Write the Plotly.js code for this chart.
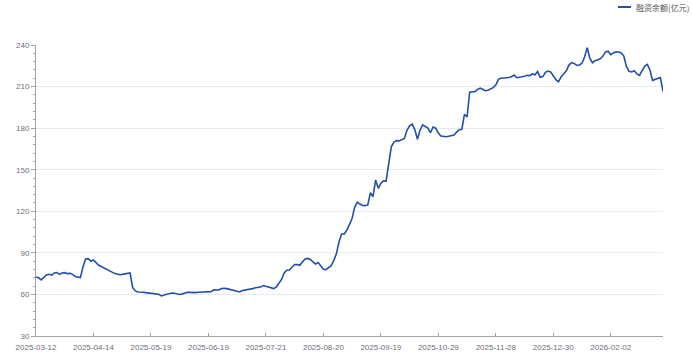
<!DOCTYPE html>
<html>
<head>
<meta charset="utf-8">
<script src="https://cdn.plot.ly/plotly-3.0.1.min.js"></script>
<style>html,body{margin:0;padding:0;background:#fff;}#chart{width:692px;height:358px;}</style>
</head>
<body>
<div id="chart"></div>
<script>
// Series name
const seriesName = '融资余额(亿元)';

// Daily financing balance (亿元), one value per trading day
const balance = [
  72.5, 72, 70.5, 72.5, 74, 74.5, 74, 75.5, 75.8, 74.5,
  75.5, 75.7, 75, 75.2, 74.5, 73, 72.4, 72.2, 80, 85.5,
  85.8, 84, 84.9, 83, 81, 80.2, 79.2, 78.2, 77.3, 76,
  75.2, 74.7, 74.3, 74.5, 74.8, 75.3, 75.5, 65, 62.5, 61.7,
  61.8, 61.6, 61.3, 61, 60.7, 60.8, 60.6, 60.1, 58.9, 59.8,
  60.1, 60.5, 61, 60.9, 60.5, 60, 60.4, 61.3, 61.6,
  61.5, 61.3, 61.3, 61.6, 61.6, 61.7, 61.8, 61.9, 62, 63.3,
  63.4, 63.2, 64.2, 64.5, 64.2, 63.8, 63.1, 62.5, 62.1, 61.8,
  62.8, 63.1, 63.2, 63.4, 64.2, 64.8, 65, 65.3, 66.4, 65.8,
  65, 64.4, 64.2, 65.5, 68, 70.8, 75.5, 77.5, 77.6, 80,
  81.6, 81.5, 81, 83.5, 85.6, 86, 85.2, 83.5, 82, 83,
  80.5, 78.2, 77.9, 79.4, 80.8, 84.5, 89.5, 98, 103.6, 103.6,
  106.5, 110.5, 115, 123, 126.5, 125.2, 124.2, 124.1, 124.6, 133.4,
  130.5, 142.6, 136.6, 140.2, 141.9, 141.7, 155, 166.5, 170, 171,
  170.8, 171.6, 172.5, 178.5, 181.6, 182.8, 179, 172, 178.5, 182.3,
  181.1, 180, 176.7, 180.8, 180, 176.5, 174.3, 173.8, 173.8, 174.2,
  174.5, 175, 177.2, 178.8, 179.2, 190, 188, 206, 206.3, 206.3,
  208, 208.8, 208, 207, 207.3, 208, 209.2, 211.1, 215.2, 216,
  216, 216, 216.5, 217.1, 218.3, 216.4, 217, 217.1, 217.5, 218.1,
  217.9, 219.1, 218.5, 220.8, 216.7, 217.2, 220.3, 221.2, 220.5, 217.8,
  215, 213.5, 217, 219.3, 221.3, 225.5, 227.3, 226.7, 225.3, 225.6,
  226.8, 231.5, 238, 230.5, 227.2, 228.7, 229.7, 230.1, 232, 235,
  235.5, 233, 234.3, 235, 234.9, 234.2, 232, 224.5, 221, 220.5,
  221.4, 219.1, 218, 222, 224.8, 226, 222, 214.5, 215.3, 215.7,
  216.5, 206.5
];

// Date labels shown on the x axis (every 22nd trading day)
const tickLabels = ['2025-03-12','2025-04-14','2025-05-19','2025-06-19','2025-07-21','2025-08-20','2025-09-19','2025-10-29','2025-11-28','2025-12-30','2026-02-02'];
const labelInterval = 22;

const xIdx = balance.map((_, i) => i);
const tickVals = tickLabels.map((_, i) => i * labelInterval);

const lineColor = '#2350a8';
const axisColor = '#a0a3ab';
const textColor = '#6e7079';
const gridColor = '#e6eaf2';
const font = '"Liberation Sans", "Noto Sans CJK SC", sans-serif';

const trace = {
  x: xIdx,
  y: balance,
  type: 'scatter',
  mode: 'lines',
  name: seriesName,
  line: {color: lineColor, width: 1.6},
  hoverinfo: 'skip',
  showlegend: false
};

const layout = {
  width: 692,
  height: 358,
  margin: {l: 36, r: 29, t: 45, b: 22, pad: 0},
  paper_bgcolor: '#ffffff',
  plot_bgcolor: '#ffffff',
  font: {family: font, size: 8, color: textColor},
  xaxis: {
    range: [0, balance.length - 1],
    tickmode: 'array',
    tickvals: tickVals,
    ticktext: tickLabels,
    showgrid: false,
    zeroline: false,
    showline: true,
    linecolor: axisColor,
    linewidth: 1,
    ticks: 'inside',
    ticklen: 3,
    tickcolor: axisColor,
    ticklabelstandoff: 3,
    tickfont: {family: font, size: 8, color: textColor},
    fixedrange: true
  },
  yaxis: {
    range: [30, 240],
    tick0: 30,
    dtick: 30,
    showgrid: true,
    gridcolor: gridColor,
    gridwidth: 1,
    zeroline: false,
    showline: true,
    linecolor: axisColor,
    linewidth: 1,
    ticks: 'outside',
    ticklen: 4,
    tickcolor: axisColor,
    minor: {dtick: 6, ticks: 'outside', ticklen: 2, tickcolor: axisColor, showgrid: false},
    tickfont: {family: font, size: 8, color: textColor},
    fixedrange: true
  },
  shapes: [
    {type: 'line', xref: 'paper', yref: 'paper',
     x0: (618 - 36) / 627, x1: (631 - 36) / 627,
     y0: 1 + (45 - 7) / 291, y1: 1 + (45 - 7) / 291,
     line: {color: lineColor, width: 2}}
  ],
  annotations: [
    {xref: 'paper', yref: 'paper', x: (634 - 36) / 627, y: 1 + (45 - 7) / 291,
     xanchor: 'left', yanchor: 'middle', showarrow: false,
     text: seriesName,
     font: {family: '"Noto Sans CJK SC", sans-serif', size: 8, color: '#555'}}
  ]
};

Plotly.newPlot('chart', [trace], layout, {displayModeBar: false, staticPlot: true});
</script>
</body>
</html>
